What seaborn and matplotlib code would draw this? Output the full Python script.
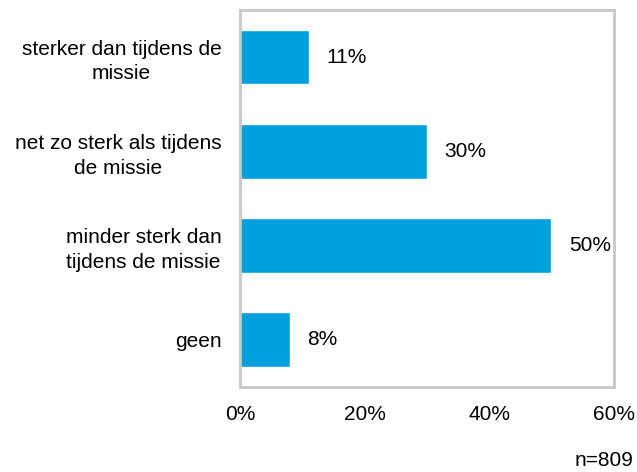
import matplotlib
matplotlib.use("Agg")
import matplotlib.pyplot as plt
import seaborn as sns
import pandas as pd

categories = ["sterker dan tijdens de\nmissie",
              "net zo sterk als tijdens\nde missie",
              "minder sterk dan\ntijdens de missie",
              "geen"]
values = [11, 30, 50, 8]
xticks = [0, 20, 40, 60]
n_label = "n=809"

sns.set_style("white")
plt.rcParams["font.family"] = ["Liberation Sans", "DejaVu Sans"]
plt.rcParams["text.color"] = "black"
plt.rcParams["xtick.color"] = "black"
plt.rcParams["ytick.color"] = "black"

df = pd.DataFrame({"cat": categories, "pct": values})

fig = plt.figure(figsize=(6.37, 4.72), dpi=100)
ax = fig.add_axes([0.3768, 0.1807, 0.5866, 0.7981])

sns.barplot(data=df, x="pct", y="cat", orient="h", color="#00A0DC",
            saturation=1, width=0.58, ax=ax)

ax.bar_label(ax.containers[0], labels=[f"{v}%" for v in values],
             padding=12.5, fontsize=15, color="black")

ax.set_xlim(0, 60)
ax.set_xticks(xticks)
ax.set_xticklabels([f"{t}%" for t in xticks], fontsize=15)
ax.set_yticks(range(len(categories)))
ax.set_yticklabels(categories, fontsize=15)
for lbl in ax.get_yticklabels():
    lbl.set_horizontalalignment("right")
    lbl.set_multialignment("center")
    lbl.set_linespacing(1.35)
ax.set_xlabel("")
ax.set_ylabel("")

ax.tick_params(axis="x", direction="in", length=5, width=1.5,
               color="#C8C8C8", labelcolor="black", pad=13)
ax.tick_params(axis="y", length=0, pad=13.5, labelcolor="black")

for sp in ax.spines.values():
    sp.set_visible(True)
    sp.set_color("#C8C8C8")
    sp.set_linewidth(2)

fig.text(0.994, 0.024, n_label, ha="right", va="center", fontsize=15)

fig.savefig("out.png", dpi=100)
